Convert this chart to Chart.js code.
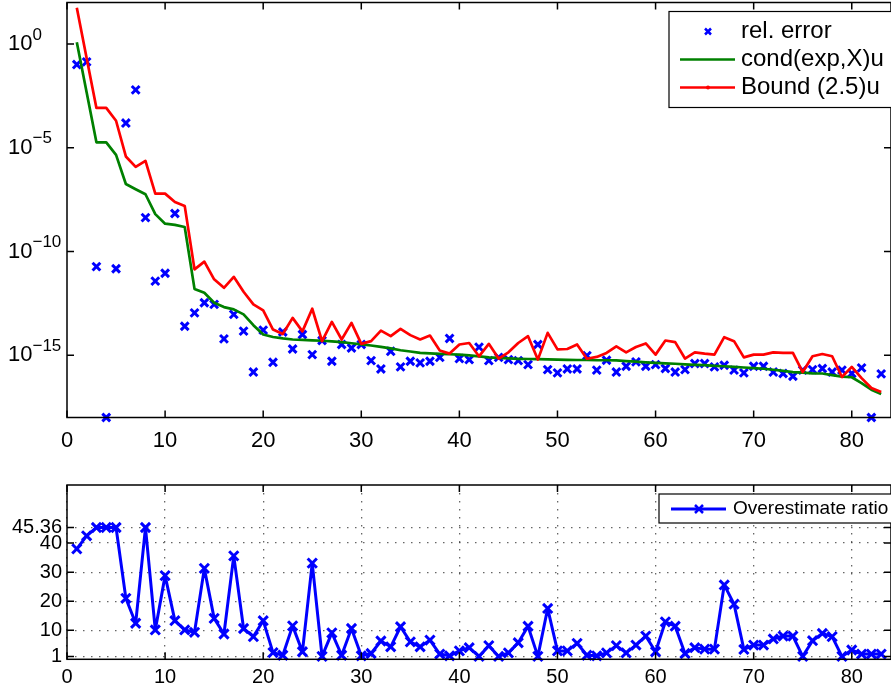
<!DOCTYPE html>
<html>
<head>
<meta charset="utf-8">
<script src="https://cdn.jsdelivr.net/npm/chart.js@4.4.0/dist/chart.umd.min.js"></script>
<style>
html, body { margin: 0; padding: 0; background: #fff; }
#topBox { position: absolute; left: 0; top: 0; width: 891px; height: 455px; }
#botBox { position: absolute; left: 0; top: 460px; width: 891px; height: 229px; }
</style>
</head>
<body>
<div id="topBox"><canvas id="errChart"></canvas></div>
<div id="botBox"><canvas id="ratioChart"></canvas></div>
<script>
// 数据 (index 1..83)
const relError = [
  1.02e-1, 1.38e-1, 1.86e-11, 1e-18, 1.48e-11, 1.55e-4, 6.17e-3, 4.27e-9, 3.72e-12, 8.91e-12,
  6.76e-9, 2.51e-14, 1.10e-13, 3.39e-13, 2.82e-13, 6.17e-15, 9.33e-14, 1.45e-14, 1.55e-16, 1.62e-14,
  4.57e-16, 1.32e-14, 2.0e-15, 1.0e-14, 1.07e-15, 5.13e-15, 5.13e-16, 3.31e-15, 2.24e-15, 3.31e-15,
  5.5e-16, 2.19e-16, 1.55e-15, 2.75e-16, 5.13e-16, 4.27e-16, 5.13e-16, 7.94e-16, 6.46e-15, 6.92e-16,
  6.17e-16, 2.45e-15, 5.5e-16, 7.94e-16, 6.17e-16, 5.5e-16, 3.55e-16, 3.31e-15, 2.04e-16, 1.41e-16,
  2.19e-16, 2.19e-16, 9.55e-16, 1.91e-16, 5.75e-16, 1.55e-16, 2.95e-16, 4.79e-16, 2.95e-16, 3.55e-16,
  2.29e-16, 1.55e-16, 2.04e-16, 3.98e-16, 3.98e-16, 2.75e-16, 3.31e-16, 1.91e-16, 1.41e-16, 2.95e-16,
  2.95e-16, 1.55e-16, 1.32e-16, 9.77e-17, 1.91e-16, 2.04e-16, 2.29e-16, 1.55e-16, 1.91e-16, 1.32e-16,
  2.45e-16, 1e-18, 1.26e-16
];
const condU = [
  1.23, 4.68e-3, 1.82e-5, 1.82e-5, 4.57e-6, 1.78e-7, 1.0e-7, 5.75e-8, 6.31e-9, 2.19e-9,
  1.91e-9, 1.51e-9, 1.58e-12, 1.02e-12, 3.39e-13, 2.09e-13, 1.62e-13, 9.33e-14, 2.82e-14, 1.0e-14,
  7.59e-15, 6.46e-15, 5.75e-15, 5.5e-15, 5.25e-15, 5.01e-15, 4.68e-15, 4.27e-15, 3.8e-15, 3.31e-15,
  2.95e-15, 2.51e-15, 2.14e-15, 1.74e-15, 1.51e-15, 1.29e-15, 1.23e-15, 1.17e-15, 1.12e-15, 1.07e-15,
  9.77e-16, 8.91e-16, 7.94e-16, 7.41e-16, 7.08e-16, 6.76e-16, 6.61e-16, 6.46e-16, 6.31e-16, 6.17e-16,
  6.03e-16, 5.89e-16, 5.89e-16, 5.75e-16, 5.75e-16, 5.62e-16, 5.25e-16, 4.9e-16, 4.57e-16, 4.27e-16,
  4.07e-16, 3.89e-16, 3.63e-16, 3.47e-16, 3.31e-16, 3.09e-16, 2.95e-16, 2.75e-16, 2.57e-16, 2.4e-16,
  2.24e-16, 2.0e-16, 1.78e-16, 1.55e-16, 1.45e-16, 1.35e-16, 1.32e-16, 1.1e-16, 9.33e-17, 8.71e-17,
  4.57e-17, 2.19e-17, 1.35e-17
];
const boundU = [
  56.2, 2.14e-1, 8.32e-4, 8.32e-4, 2.0e-4, 3.8e-6, 1.2e-6, 2.34e-6, 6.17e-8, 6.17e-8,
  2.45e-8, 1.58e-8, 1.38e-11, 3.24e-11, 4.57e-12, 1.78e-12, 6.03e-12, 1.15e-12, 2.82e-13, 1.45e-13,
  1.74e-14, 1.05e-14, 6.31e-14, 1.41e-14, 1.74e-13, 4.79e-15, 4.07e-14, 5.75e-15, 3.63e-14, 3.55e-15,
  4.79e-15, 1.55e-14, 8.32e-15, 1.86e-14, 9.33e-15, 5.75e-15, 8.91e-15, 1.7e-15, 1.2e-15, 3.31e-15,
  3.89e-15, 8.91e-16, 3.55e-15, 6.92e-16, 1.38e-15, 3.89e-15, 8.32e-15, 6.17e-16, 1.2e-14, 1.91e-15,
  2.0e-15, 3.31e-15, 6.76e-16, 8.32e-16, 1.29e-15, 2.69e-15, 1.38e-15, 2.51e-15, 3.72e-15, 1.07e-15,
  5.13e-15, 4.27e-15, 6.92e-16, 1.38e-15, 1.2e-15, 1.07e-15, 7.41e-15, 4.79e-15, 7.94e-16, 1.07e-15,
  1.07e-15, 1.38e-15, 1.29e-15, 1.29e-15, 1.55e-16, 8.91e-16, 1.15e-15, 8.91e-16, 8.91e-17, 2.75e-16,
  7.94e-17, 2.63e-17, 1.7e-17
];
const overRatio = [
  38.0, 42.5, 45.36, 45.36, 45.36, 21.0, 12.4, 45.36, 10.1, 28.8,
  13.3, 10.1, 9.3, 31.3, 14.1, 8.7, 35.6, 10.6, 7.8, 13.3,
  2.3, 1.4, 11.5, 2.6, 33.1, 1.0, 9.1, 1.4, 10.6, 1.2,
  2.0, 6.3, 4.3, 11.2, 6.0, 4.3, 6.6, 1.8, 1.2, 2.9,
  4.0, 1.0, 4.7, 1.0, 2.2, 5.7, 11.4, 1.0, 17.5, 2.9,
  2.9, 5.5, 1.4, 1.2, 2.2, 4.7, 2.2, 4.9, 8.0, 2.6,
  12.9, 11.4, 2.0, 4.0, 3.5, 3.5, 25.6, 19.0, 3.4, 4.9,
  4.9, 7.0, 8.0, 8.0, 1.0, 6.4, 8.9, 7.8, 1.0, 3.2,
  1.8, 1.8, 1.8
];
const xTicks = [0, 10, 20, 30, 40, 50, 60, 70, 80];
const topYTicks = [1e0, 1e-5, 1e-10, 1e-15];
const topYExp = ['0', '\u22125', '\u221210', '\u221215'];
const botYTicks = [1, 10, 20, 30, 40, 45.36];
const botYLabels = ['1', '10', '20', '30', '40', '45.36'];

const FONT = "'Liberation Sans', Arial, Helvetica, sans-serif";
const BLUE = '#0000ff', GREEN = '#008000', RED = '#ff0000';

const toXY = arr => arr.map((v, i) => ({ x: i + 1, y: v }));

// 坐标框 + 内侧刻度
const boxTicks = {
    id: 'boxTicks',
    afterDatasetsDraw(chart) {
        const { ctx, chartArea: a, scales } = chart;
        ctx.save();
        ctx.strokeStyle = '#000';
        ctx.lineWidth = 1.5;
        ctx.beginPath();
        scales.x.ticks.forEach(t => {
            const px = scales.x.getPixelForValue(t.value);
            ctx.moveTo(px, a.bottom); ctx.lineTo(px, a.bottom - 7);
            ctx.moveTo(px, a.top); ctx.lineTo(px, a.top + 7);
        });
        scales.y.ticks.forEach(t => {
            const py = scales.y.getPixelForValue(t.value);
            ctx.moveTo(a.left, py); ctx.lineTo(a.left + 7, py);
            ctx.moveTo(a.right, py); ctx.lineTo(a.right - 7, py);
        });
        ctx.stroke();
        ctx.strokeRect(a.left, a.top, a.width, a.height);
        ctx.restore();
    }
};

// 对数轴标签 10^n
const logLabels = {
    id: 'logLabels',
    afterDraw(chart) {
        const { ctx, chartArea: a, scales } = chart;
        ctx.save();
        ctx.fillStyle = '#000';
        ctx.textAlign = 'left';
        ctx.textBaseline = 'middle';
        const x0 = a.left - 59;
        topYTicks.forEach((v, i) => {
            const py = scales.y.getPixelForValue(v);
            ctx.font = '22px ' + FONT;
            ctx.fillText('10', x0, py);
            const w = ctx.measureText('10').width;
            ctx.font = '17px ' + FONT;
            ctx.fillText(topYExp[i], x0 + w, py - 9);
        });
        ctx.restore();
    }
};

// 上图图例
const topLegend = {
    id: 'topLegend',
    afterDraw(chart) {
        const { ctx, chartArea: a } = chart;
        const left = a.right - 222, top = a.top + 9;
        ctx.save();
        ctx.fillStyle = '#fff';
        ctx.fillRect(left, top, 240, 96);
        ctx.strokeStyle = '#000';
        ctx.lineWidth = 1.2;
        ctx.strokeRect(left, top, 240, 96);
        const rows = [top + 20, top + 48, top + 76];
        // rel. error 标记
        ctx.strokeStyle = BLUE;
        ctx.lineWidth = 2.5;
        ctx.beginPath();
        ctx.moveTo(left + 36, rows[0] - 3); ctx.lineTo(left + 42, rows[0] + 3);
        ctx.moveTo(left + 42, rows[0] - 3); ctx.lineTo(left + 36, rows[0] + 3);
        ctx.stroke();
        // cond 线
        ctx.strokeStyle = GREEN;
        ctx.lineWidth = 2.5;
        ctx.beginPath();
        ctx.moveTo(left + 11, rows[1]); ctx.lineTo(left + 66, rows[1]);
        ctx.stroke();
        // bound 线
        ctx.strokeStyle = RED;
        ctx.beginPath();
        ctx.moveTo(left + 11, rows[2]); ctx.lineTo(left + 66, rows[2]);
        ctx.stroke();
        ctx.fillStyle = RED;
        ctx.beginPath();
        ctx.arc(left + 39, rows[2], 2, 0, Math.PI * 2);
        ctx.fill();
        ctx.fillStyle = '#000';
        ctx.font = '24px ' + FONT;
        ctx.textAlign = 'left';
        ctx.textBaseline = 'middle';
        ctx.fillText('rel. error', left + 72, rows[0]);
        ctx.fillText('cond(exp,X)u', left + 72, rows[1]);
        ctx.fillText('Bound (2.5)u', left + 72, rows[2]);
        ctx.restore();
    }
};

// 下图图例
const botLegend = {
    id: 'botLegend',
    afterDraw(chart) {
        const { ctx, chartArea: a } = chart;
        const left = a.right - 232, top = a.top + 9;
        ctx.save();
        ctx.fillStyle = '#fff';
        ctx.fillRect(left, top, 250, 29);
        ctx.strokeStyle = '#000';
        ctx.lineWidth = 1.2;
        ctx.strokeRect(left, top, 250, 29);
        const cy = top + 15;
        ctx.strokeStyle = BLUE;
        ctx.lineWidth = 3;
        ctx.beginPath();
        ctx.moveTo(left + 12, cy); ctx.lineTo(left + 67, cy);
        ctx.stroke();
        ctx.lineWidth = 2.5;
        ctx.beginPath();
        ctx.moveTo(left + 36, cy - 4); ctx.lineTo(left + 44, cy + 4);
        ctx.moveTo(left + 44, cy - 4); ctx.lineTo(left + 36, cy + 4);
        ctx.stroke();
        ctx.fillStyle = '#000';
        ctx.font = '19px ' + FONT;
        ctx.textAlign = 'left';
        ctx.textBaseline = 'middle';
        ctx.fillText('Overestimate ratio', left + 74, cy);
        ctx.restore();
    }
};

const xAxis = (h, size, pad, grid) => ({
    type: 'linear',
    min: 0,
    max: 84,
    afterBuildTicks: s => { s.ticks = xTicks.map(v => ({ value: v })); },
    afterFit: s => { s.height = h; },
    ticks: { color: '#000', font: { family: FONT, size: size }, padding: pad, autoSkip: false, maxRotation: 0 },
    grid: grid,
    border: { display: false, dash: [1.5, 6.5] }
});

new Chart(document.getElementById('errChart'), {
    type: 'line',
    data: {
        datasets: [
            {
                label: 'rel. error',
                data: toXY(relError),
                showLine: false,
                pointStyle: 'crossRot',
                pointRadius: 5.5,
                pointBorderWidth: 3,
                borderColor: BLUE,
                backgroundColor: BLUE,
                clip: false,
                order: 3
            },
            {
                label: 'cond(exp,X)u',
                data: toXY(condU),
                borderColor: GREEN,
                borderWidth: 2.7,
                borderJoinStyle: 'round',
                pointRadius: 0,
                tension: 0,
                order: 2
            },
            {
                label: 'Bound (2.5)u',
                data: toXY(boundU),
                borderColor: RED,
                borderWidth: 2.7,
                borderJoinStyle: 'round',
                pointRadius: 0,
                tension: 0,
                order: 1
            }
        ]
    },
    options: {
        responsive: true,
        maintainAspectRatio: false,
        animation: false,
        layout: { autoPadding: false, padding: { left: 8, top: 2.5, right: 0, bottom: 0 } },
        plugins: { legend: { display: false }, tooltip: { enabled: false } },
        scales: {
            x: xAxis(37.5, 22, 2, { display: false }),
            y: {
                type: 'logarithmic',
                min: 1e-18,
                max: 1e2,
                afterBuildTicks: s => { s.ticks = topYTicks.map(v => ({ value: v })); },
                afterFit: s => { s.width = 59; },
                ticks: { display: false },
                grid: { display: false },
                border: { display: false }
            }
        }
    },
    plugins: [boxTicks, logLabels, topLegend]
});

const dotGrid = { display: true, color: 'rgba(0,0,0,0.6)', lineWidth: 1.3, drawTicks: false };

new Chart(document.getElementById('ratioChart'), {
    type: 'line',
    data: {
        datasets: [{
            label: 'Overestimate ratio',
            data: toXY(overRatio),
            borderColor: BLUE,
            backgroundColor: BLUE,
            borderWidth: 3,
            borderJoinStyle: 'round',
            pointStyle: 'crossRot',
            pointRadius: 6.5,
            pointBorderWidth: 3,
            tension: 0,
            clip: false
        }]
    },
    options: {
        responsive: true,
        maintainAspectRatio: false,
        animation: false,
        layout: { autoPadding: false, padding: { left: 0, top: 25, right: 0, bottom: 0 } },
        plugins: { legend: { display: false }, tooltip: { enabled: false } },
        scales: {
            x: xAxis(29.7, 20, 6, dotGrid),
            y: {
                type: 'linear',
                min: 0,
                max: 60,
                afterBuildTicks: s => { s.ticks = botYTicks.map(v => ({ value: v })); },
                afterFit: s => { s.width = 67; },
                ticks: {
                    color: '#000', font: { family: FONT, size: 20 }, padding: 5, autoSkip: false,
                    callback: (v, i) => botYLabels[i]
                },
                grid: dotGrid,
                border: { display: false, dash: [1.5, 6.5] }
            }
        }
    },
    plugins: [boxTicks, botLegend]
});
</script>
</body>
</html>
